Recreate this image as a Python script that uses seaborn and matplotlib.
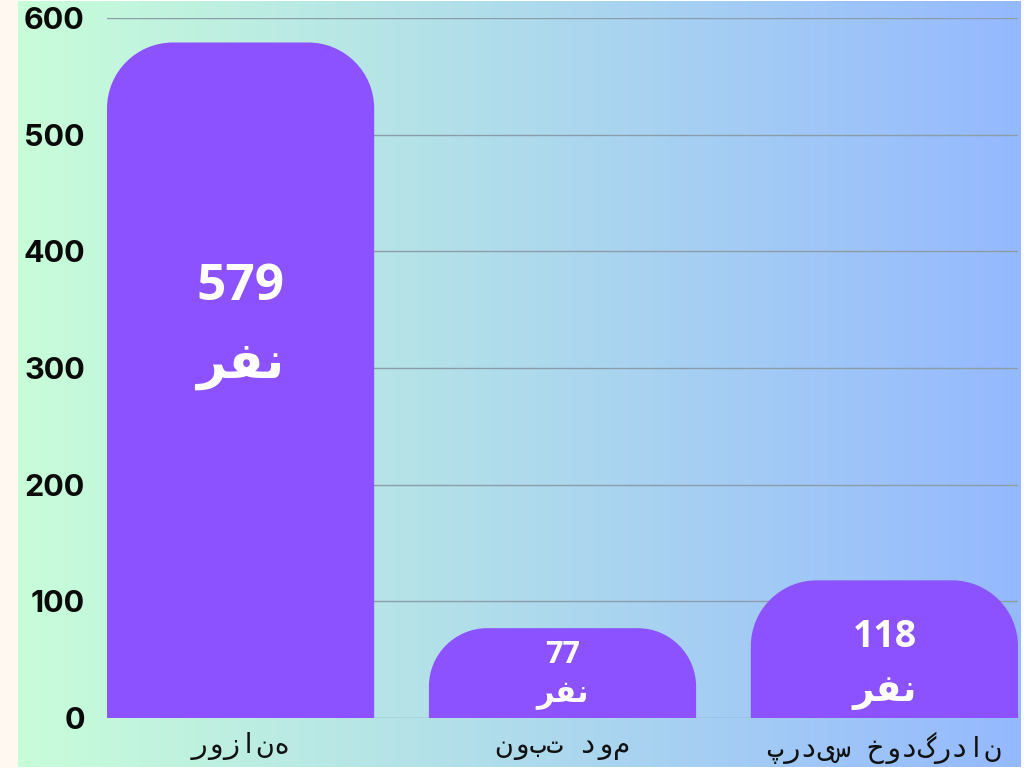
import matplotlib
matplotlib.use("Agg")
import matplotlib.pyplot as plt
import numpy as np
import pandas as pd
import seaborn as sns
from matplotlib.patches import PathPatch
from matplotlib.path import Path

# داده‌ها
categories = ["روزانه", "نوبت دوم", "پردیس خودگردان"]
counts = [579, 77, 118]
unit = "\uFEAE\uFED4\uFEE7"  # «نفر» در شکل‌های چسبان، به ترتیب نمایشی
y_ticks = [0, 100, 200, 300, 400, 500, 600]

# سبک برچسب‌های داخل ستون‌ها (کسری از ارتفاع ستون)
num_frac = [0.638, 0.70, 0.59]
unit_frac = [0.523, 0.25, 0.19]
label_sizes = [37, 22, 27]

BAR_COLOR = "#8C52FF"
GRID_COLOR = "#8E9BA8"
W, H = 1024, 768


def rounded_top(x0, y0, w, h, rx, ry):
    k = 0.5523
    x1, y1 = x0 + w, y0 + h
    verts = [
        (x0, y0),
        (x0, y1 - ry),
        (x0, y1 - ry + k * ry), (x0 + rx - k * rx, y1), (x0 + rx, y1),
        (x1 - rx, y1),
        (x1 - rx + k * rx, y1), (x1, y1 - ry + k * ry), (x1, y1 - ry),
        (x1, y0),
        (x0, y0),
    ]
    codes = [Path.MOVETO, Path.LINETO,
             Path.CURVE4, Path.CURVE4, Path.CURVE4,
             Path.LINETO,
             Path.CURVE4, Path.CURVE4, Path.CURVE4,
             Path.LINETO, Path.CLOSEPOLY]
    return Path(verts, codes)


def main():
    sns.set_theme(style="white")
    plt.rcParams["font.family"] = ["Open Sans", "DejaVu Sans"]

    fig = plt.figure(figsize=(W / 100, H / 100), dpi=100)
    fig.patch.set_facecolor("#FFFFFF")

    # پس‌زمینه: نوار کرم در چپ و گرادیان سبز به آبی
    bg = fig.add_axes([0, 0, 1, 1], zorder=-10)
    bg.set_xlim(0, W)
    bg.set_ylim(H, 0)
    bg.axis("off")
    bg.add_patch(plt.Rectangle((0, 0), 18, H, color="#FFF8F1", lw=0))
    c0 = np.array([200, 253, 217]) / 255
    c1 = np.array([149, 185, 255]) / 255
    t = np.linspace(0, 1, 256)[None, :, None]
    grad = c0 + (c1 - c0) * t
    bg.imshow(grad, extent=[18, 1021, 767, 1], aspect="auto", zorder=-5)

    left, right, top, base = 107, 1018, 18, 718
    ax = fig.add_axes([left / W, (H - base) / H, (right - left) / W, (base - top) / H])
    ax.patch.set_alpha(0)

    df = pd.DataFrame({"category": categories, "count": counts})
    sns.barplot(data=df, x="category", y="count", color=BAR_COLOR,
                width=0.83, saturation=1, ax=ax, zorder=3)
    ax.set_xlim(-0.415, 2.415)
    ax.set_ylim(0, 600)

    px_x = (right - left) / 2.83
    px_y = (base - top) / 600
    for i, p in enumerate(list(ax.patches)):
        x0, w, h = p.get_x(), p.get_width(), p.get_height()
        p.set_visible(False)
        r = min(66, h * px_y * 0.65)
        ax.add_patch(PathPatch(rounded_top(x0, 0, w, h, r / px_x, r / px_y),
                               facecolor=BAR_COLOR, edgecolor="none", zorder=3))
        xc = x0 + w / 2
        ax.text(xc, h * num_frac[i], str(counts[i]), ha="center", va="center",
                color="white", fontsize=label_sizes[i], fontweight="bold",
                family=["Open Sans", "DejaVu Sans"], zorder=5)
        ax.text(xc, h * unit_frac[i], unit, ha="center", va="center",
                color="white", fontsize=label_sizes[i], fontweight="bold",
                family=["DejaVu Sans"], zorder=5)

    ax.set_yticks(y_ticks)
    ax.set_yticklabels([str(v) for v in y_ticks], fontsize=22, fontweight="bold",
                       family=["Inter", "DejaVu Sans"], color="#0A0A0A")
    ax.set_xticklabels(categories, fontsize=20,
                       family=["DejaVu Sans Mono", "DejaVu Sans"], color="#111111")
    ax.tick_params(axis="y", length=0, pad=16)
    ax.tick_params(axis="x", length=0, pad=10)
    ax.set_xlabel("")
    ax.set_ylabel("")
    ax.grid(axis="y", color=GRID_COLOR, lw=1, zorder=0)
    for s in ax.spines.values():
        s.set_visible(False)

    fig.savefig("out.png", dpi=100)
    plt.close(fig)


if __name__ == "__main__":
    main()
